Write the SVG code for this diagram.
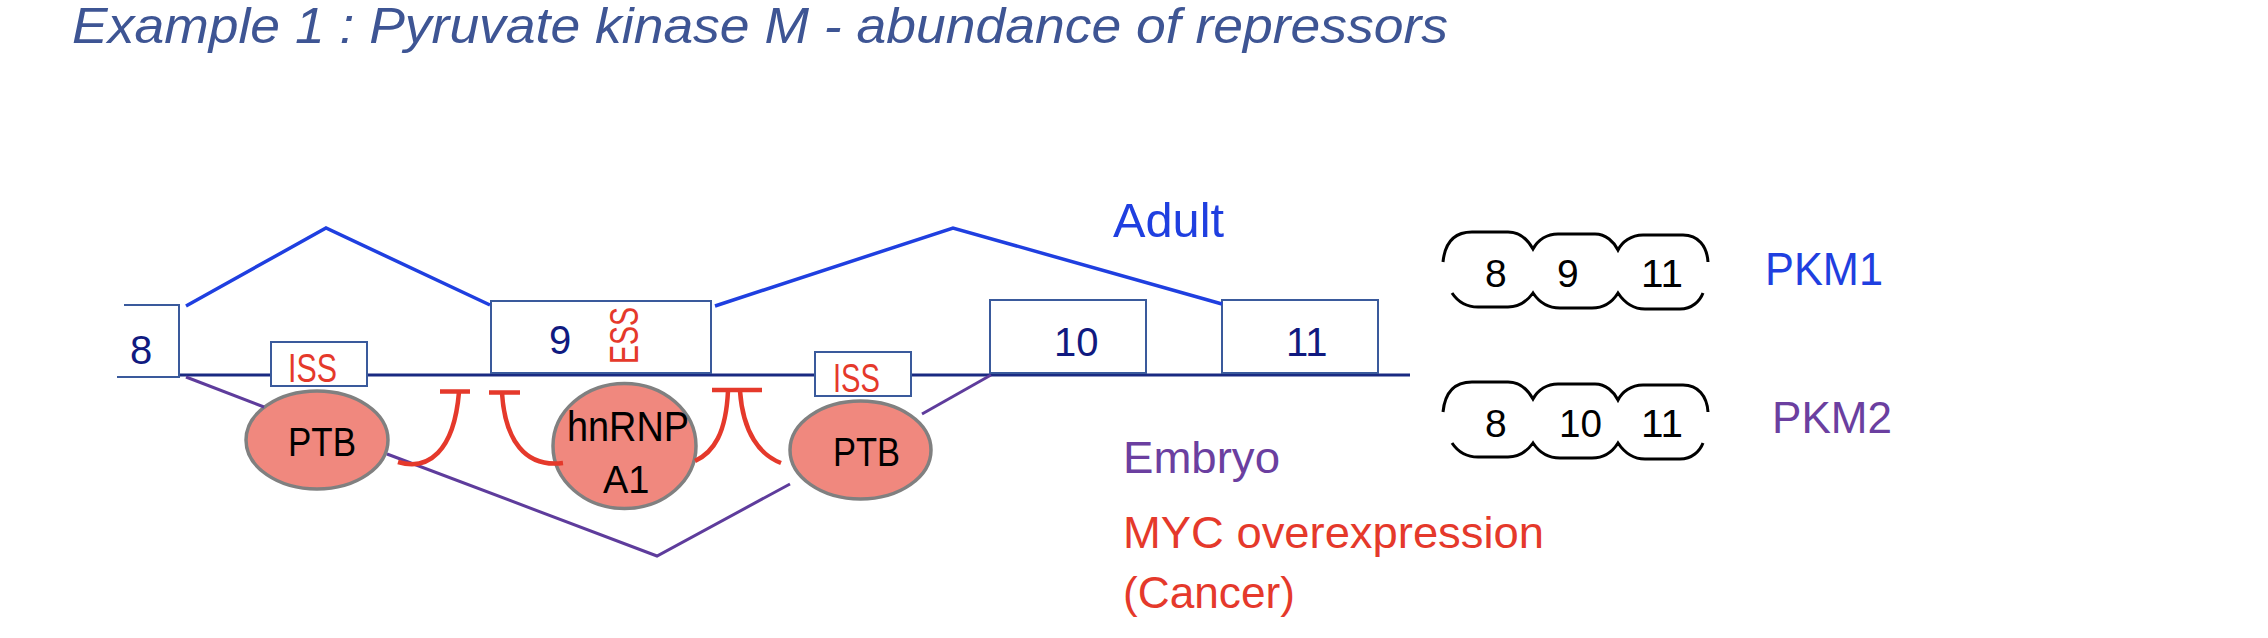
<svg xmlns="http://www.w3.org/2000/svg" width="2268" height="638" viewBox="0 0 2268 638">
<style>
text{font-family:"Liberation Sans",Arial,sans-serif;}
.title{font-size:50px;font-style:italic;fill:#3e5594;}
.num{font-size:40px;fill:#101a80;}
.red{fill:#e5392b;}
.exon{fill:#ffffff;stroke:#3a5a9c;stroke-width:2;}
.main{fill:none;stroke:#1a2a82;stroke-width:3;}
.adult{fill:none;stroke:#1f3fe0;stroke-width:3.5;}
.embryo{fill:none;stroke:#5e3c9c;stroke-width:3;}
.inhib{fill:none;stroke:#e5392b;stroke-width:4.5;}
.prot{fill:#f0887e;stroke:#808080;stroke-width:3.5;}
.blk{fill:#000000;}
.iso{fill:none;stroke:#000000;stroke-width:3;}
</style>

<text class="title" x="72" y="43" textLength="1376" lengthAdjust="spacingAndGlyphs">Example 1 : Pyruvate kinase M - abundance of repressors</text>

<g id="gene">
  <line class="main" x1="179" y1="375" x2="1410" y2="375"/>
</g>

<g id="exon8">
  <path d="M124,305 H179 V377 H117" fill="#ffffff" stroke="#3a5a9c" stroke-width="2"/>
  <text class="num" x="130" y="364">8</text>
</g>
<g id="iss1">
  <rect class="exon" x="271" y="342" width="96" height="44"/>
  <text class="red" x="288" y="382" font-size="40" textLength="49" lengthAdjust="spacingAndGlyphs">ISS</text>
</g>
<g id="exon9">
  <rect class="exon" x="491" y="301" width="220" height="72"/>
  <text class="num" x="549" y="354">9</text>
  <text class="red" font-size="40" transform="translate(638,364) rotate(-90)" textLength="57" lengthAdjust="spacingAndGlyphs">ESS</text>
</g>
<g id="iss2">
  <rect class="exon" x="815" y="352" width="96" height="44"/>
  <text class="red" x="833" y="392" font-size="40" textLength="47" lengthAdjust="spacingAndGlyphs">ISS</text>
</g>
<g id="exon10">
  <rect class="exon" x="990" y="300" width="156" height="73"/>
  <text class="num" x="1054" y="356">10</text>
</g>
<g id="exon11">
  <rect class="exon" x="1222" y="300" width="156" height="73"/>
  <text class="num" x="1286" y="356">11</text>
</g>

<g id="ptb1">
  <ellipse class="prot" cx="317" cy="440" rx="71" ry="49"/>
  <text class="blk" x="288" y="456" font-size="40" textLength="68" lengthAdjust="spacingAndGlyphs">PTB</text>
</g>
<g id="hnrnpa1">
  <ellipse class="prot" cx="624.5" cy="446" rx="71.5" ry="62.5"/>
  <text class="blk" x="567" y="441" font-size="42" textLength="122" lengthAdjust="spacingAndGlyphs">hnRNP</text>
  <text class="blk" x="603" y="493" font-size="38">A1</text>
</g>
<g id="ptb2">
  <ellipse class="prot" cx="860.5" cy="450" rx="70.5" ry="49"/>
  <text class="blk" x="833" y="466" font-size="40" textLength="67" lengthAdjust="spacingAndGlyphs">PTB</text>
</g>

<g id="connectors">
  <polyline class="adult" points="186,306 326,228 490,305"/>
  <polyline class="adult" points="715,306 953,228 1222,304"/>
  <line class="embryo" x1="186" y1="377" x2="264" y2="407"/>
  <polyline class="embryo" points="387,454 657,556 790,484"/>
  <line class="embryo" x1="922" y1="414" x2="991" y2="375"/>
  <path class="inhib" d="M398,462 C428,471 454,452 459,392 M440,391.5 H470"/>
  <path class="inhib" d="M502,393 C505,440 525,468 563,463 M489,392.5 H520"/>
  <path class="inhib" d="M728,391 C726,433 714,452 695,461 M740,391 C743,433 760,455 781,463 M712,390 H762"/>
</g>

<g id="label-adult">
  <text x="1113" y="237" font-size="48" fill="#1f3fe0" textLength="111" lengthAdjust="spacingAndGlyphs">Adult</text>
</g>
<g id="label-embryo">
  <text x="1123" y="473" font-size="45" fill="#6b3fa0" textLength="157" lengthAdjust="spacingAndGlyphs">Embryo</text>
</g>
<g id="label-myc">
  <text x="1123" y="548" font-size="44" class="red" textLength="421" lengthAdjust="spacingAndGlyphs">MYC overexpression</text>
  <text x="1123" y="608" font-size="44" class="red" textLength="172" lengthAdjust="spacingAndGlyphs">(Cancer)</text>
</g>

<g id="pkm1">
  <path class="iso" d="M1443,262 C1445,242 1455,232 1472,232 L1508,232 C1520,232 1528,240 1533,249 C1538,240 1547,234 1558,234 L1595,234 C1606,234 1614,242 1618,250 C1622,242 1631,235 1643,235 L1683,235 C1698,235 1707,246 1708,262"/>
  <path class="iso" d="M1452,293 C1458,302 1466,307 1478,307 L1508,307 C1520,307 1528,300 1533,293 C1539,302 1548,308 1560,308 L1592,308 C1605,308 1613,301 1618,293 C1624,302 1632,309 1645,309 L1680,309 C1692,309 1700,301 1703,293"/>
  <text class="blk" x="1485" y="287" font-size="39">8</text>
  <text class="blk" x="1557" y="287" font-size="39">9</text>
  <text class="blk" x="1641" y="287" font-size="39" textLength="42" lengthAdjust="spacingAndGlyphs">11</text>
  <text x="1765" y="285" font-size="47" fill="#1f3fe0" textLength="118" lengthAdjust="spacingAndGlyphs">PKM1</text>
</g>
<g id="pkm2">
  <path class="iso" transform="translate(0,150)" d="M1443,262 C1445,242 1455,232 1472,232 L1508,232 C1520,232 1528,240 1533,249 C1538,240 1547,234 1558,234 L1595,234 C1606,234 1614,242 1618,250 C1622,242 1631,235 1643,235 L1683,235 C1698,235 1707,246 1708,262"/>
  <path class="iso" transform="translate(0,150)" d="M1452,293 C1458,302 1466,307 1478,307 L1508,307 C1520,307 1528,300 1533,293 C1539,302 1548,308 1560,308 L1592,308 C1605,308 1613,301 1618,293 C1624,302 1632,309 1645,309 L1680,309 C1692,309 1700,301 1703,293"/>
  <text class="blk" x="1485" y="437" font-size="39">8</text>
  <text class="blk" x="1559" y="437" font-size="39" textLength="43" lengthAdjust="spacingAndGlyphs">10</text>
  <text class="blk" x="1641" y="437" font-size="39" textLength="42" lengthAdjust="spacingAndGlyphs">11</text>
  <text x="1772" y="433" font-size="45" fill="#6b3fa0" textLength="120" lengthAdjust="spacingAndGlyphs">PKM2</text>
</g>
</svg>
